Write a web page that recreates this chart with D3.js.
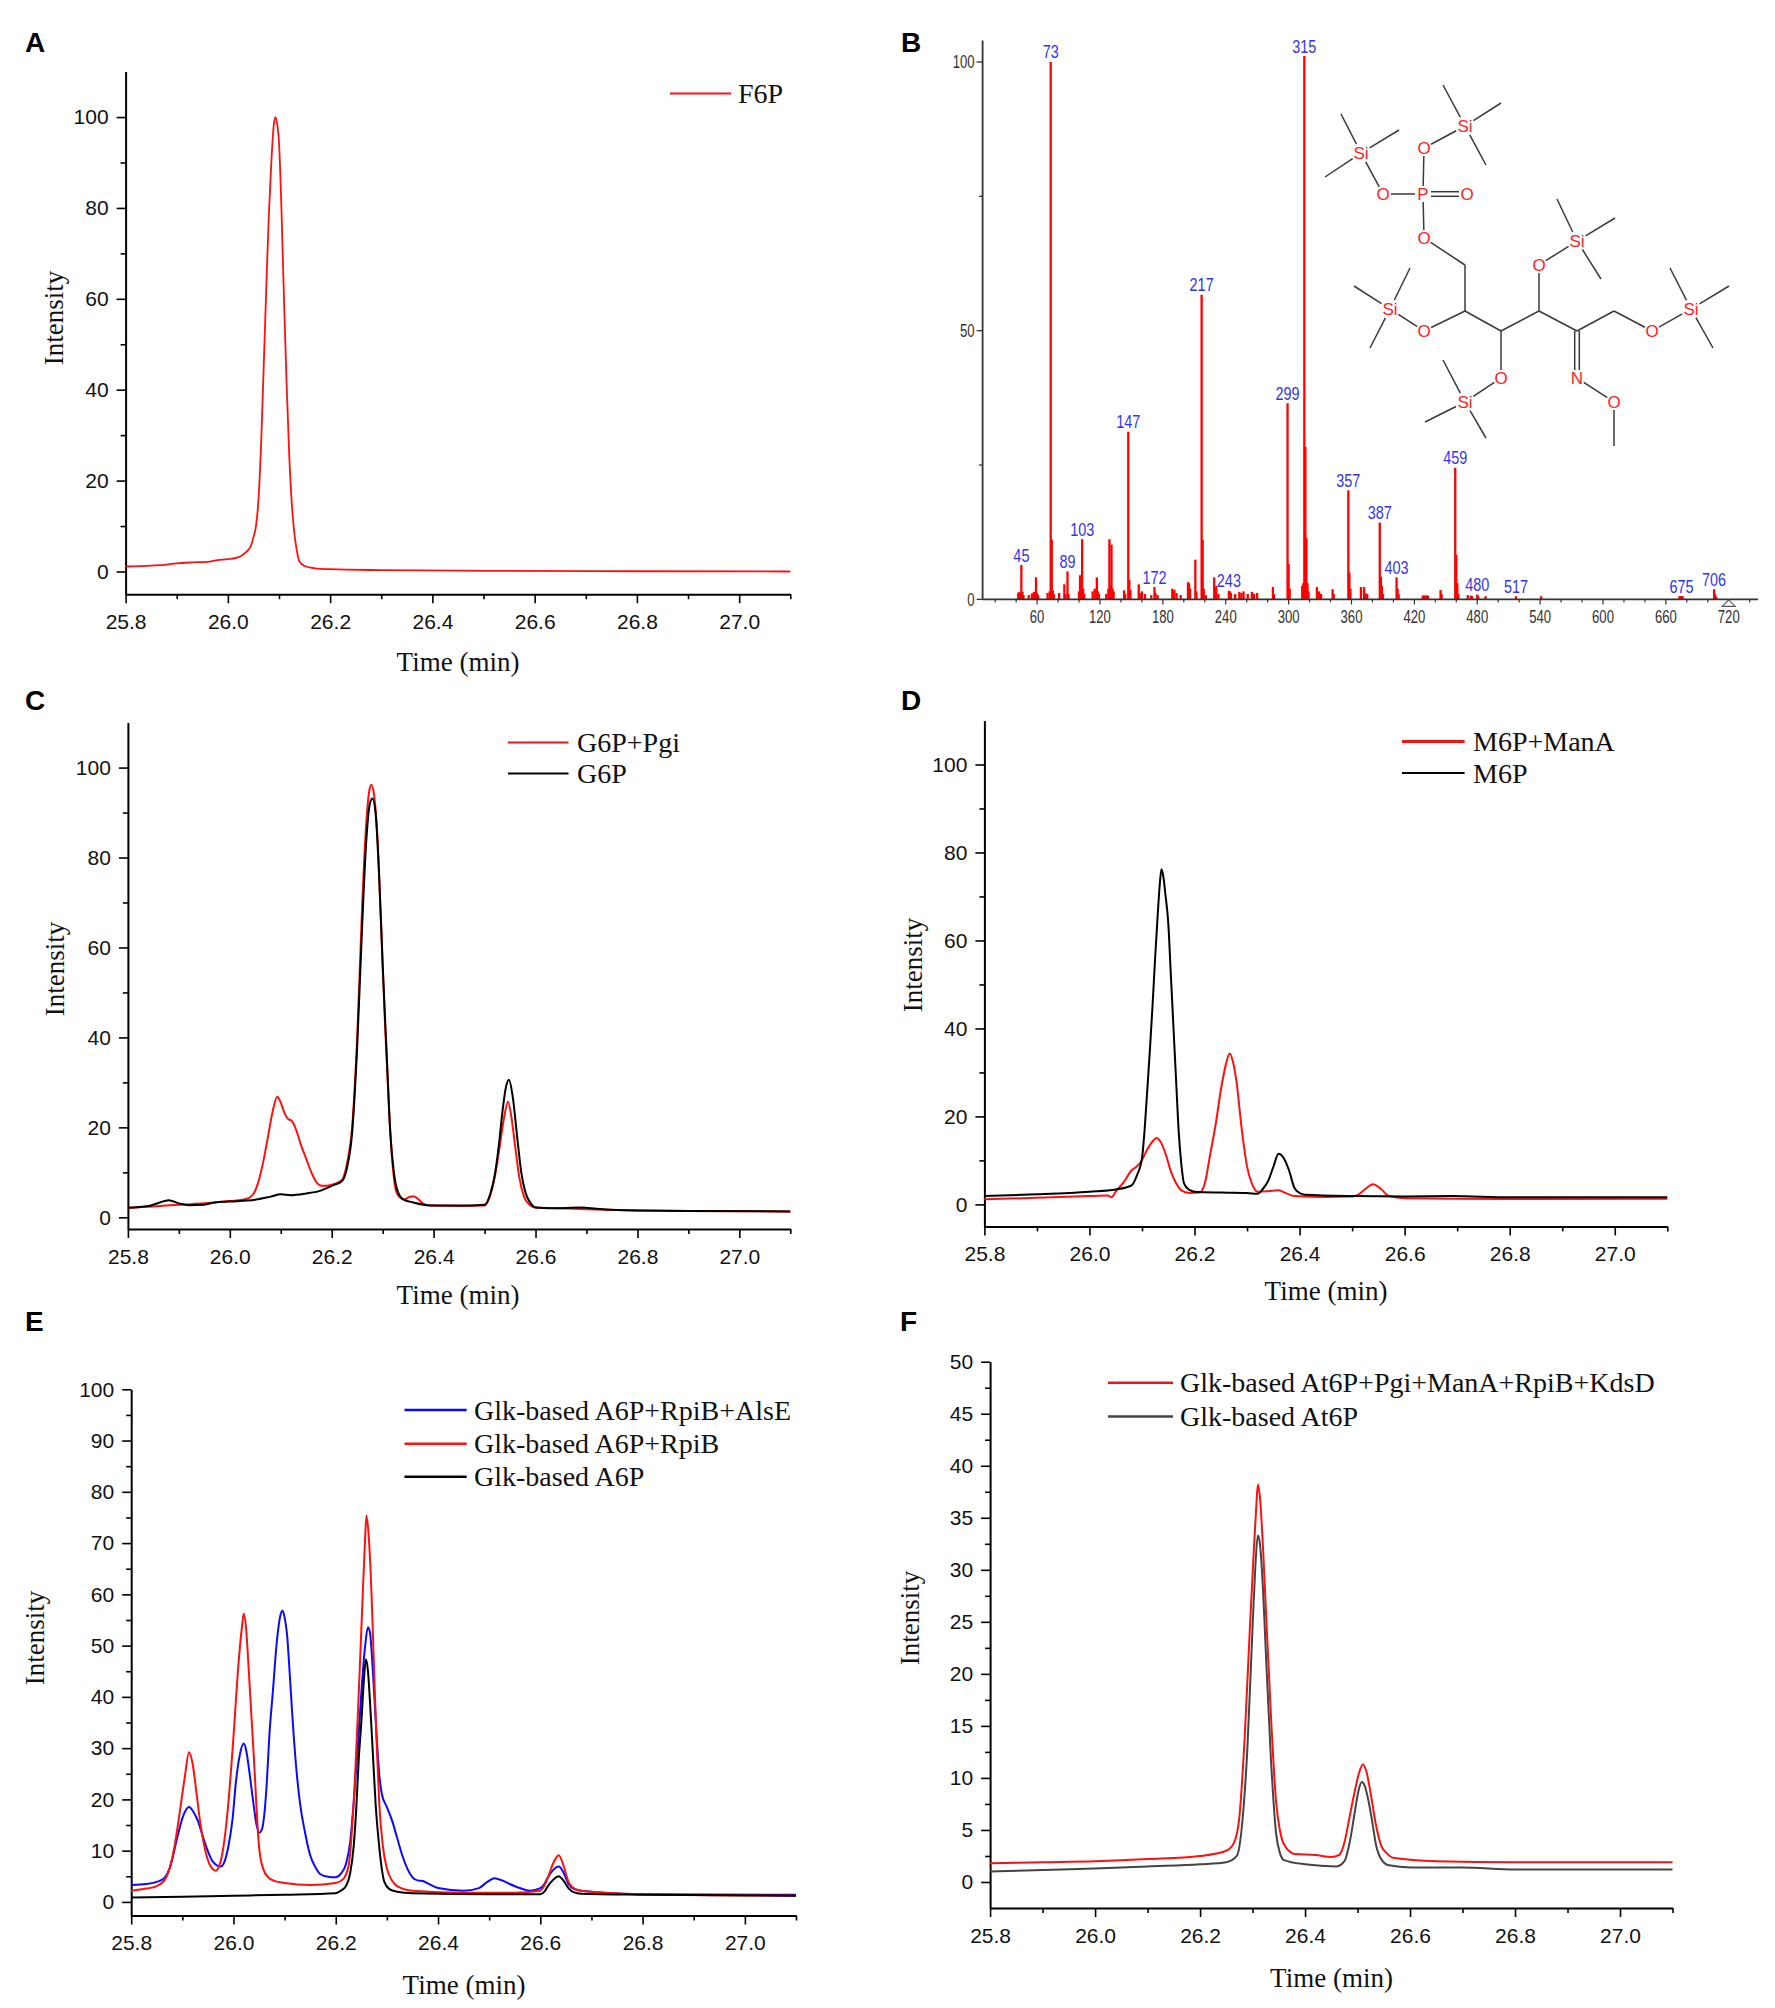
<!DOCTYPE html>
<html><head><meta charset="utf-8">
<script src="https://cdn.jsdelivr.net/npm/d3@7"></script>
<style>body{margin:0;background:#fff}svg{display:block}</style>
</head><body>
<svg id="c" width="1775" height="2008"></svg>
<script>
// ---------------- DATA ----------------
const timeTicks = [25.8, 26.0, 26.2, 26.4, 26.6, 26.8, 27.0];
const timeMinor = [25.9, 26.1, 26.3, 26.5, 26.7, 26.9, 27.1];

// Panel A: F6P
const aF6P = [[25.80,1.1],[25.85,1.3],[25.88,1.5],[25.90,1.8],[25.93,2.0],[25.96,2.1],[25.98,2.5],[26.00,2.7],[26.02,3.1],[26.035,4.2],[26.045,5.6],[26.05,7.5],[26.055,10],[26.06,16],[26.065,28],[26.07,44.7],[26.075,62],[26.08,78],[26.085,90],[26.09,98.5],[26.093,100],[26.097,98],[26.10,94.5],[26.105,79],[26.11,59],[26.115,41],[26.12,25.6],[26.125,15],[26.13,8.4],[26.135,4.5],[26.14,2.2],[26.15,1.2],[26.17,0.7],[26.2,0.5],[26.3,0.3],[26.5,0.15],[26.8,0.05],[27.1,0]];

// Panel B: mass spectrum [m/z, relative abundance]
const msPeaks = [[42,1.2],[43,1.4],[44,1.0],[45,6.4],[46,1.4],[47,0.8],[52,0.8],[55,1.1],[57,1.4],[59,4.1],[60,1.2],[61,0.8],[70,1.2],[72,1.5],[73,100],[74,11.1],[75,1.7],[76,1.0],[81,1.2],[86,2.8],[87,1.0],[89,5.2],[90,1.0],[100,1.5],[101,4.5],[102,2.0],[103,11.2],[104,2.0],[105,1.0],[113,1.5],[115,2.0],[117,4.1],[118,1.5],[119,1.0],[126,1.0],[128,2.0],[129,11.2],[130,2.5],[131,10.2],[132,2.0],[133,1.5],[143,1.7],[144,1.0],[147,31.2],[148,3.6],[149,1.8],[157,2.8],[158,1.2],[160,1.5],[163,1.0],[169,0.8],[172,2.3],[173,1.2],[175,0.8],[189,2.0],[190,1.5],[191,1.8],[193,1.2],[197,0.8],[204,3.2],[205,3.0],[206,2.0],[211,7.4],[212,1.5],[217,56.7],[218,11.1],[219,2.0],[221,0.8],[229,4.1],[230,2.0],[231,2.5],[233,1.0],[243,1.6],[244,1.5],[245,1.2],[249,1.0],[253,1.4],[255,1.2],[257,1.5],[261,1.0],[265,1.4],[267,1.0],[270,1.2],[285,2.3],[286,1.0],[299,36.5],[300,6.6],[301,2.0],[313,2.5],[314,3.0],[315,101.1],[316,28.4],[317,11.4],[318,3.0],[319,1.5],[327,2.3],[329,1.5],[331,1.0],[342,1.9],[343,1.0],[357,20.3],[358,5.0],[359,2.0],[369,2.3],[372,2.3],[373,1.2],[375,1.0],[387,14.3],[388,4.2],[389,2.5],[390,1.0],[403,4.1],[404,2.0],[405,1.0],[428,0.7],[429,0.7],[430,0.7],[431,0.7],[432,0.7],[433,0.7],[445,1.75],[446,1.0],[459,24.5],[460,8.3],[461,3.0],[462,1.0],[471,0.8],[474,0.7],[475,0.6],[480,0.9],[481,0.6],[488,0.6],[517,0.6],[541,0.6],[673,0.6],[674,0.6],[675,0.6],[676,0.6],[706,1.9],[707,1.0],[708,0.5]];
const msLabels = [45,73,89,103,147,172,217,243,299,315,357,387,403,459,480,517,675,706];
const msXTicks = [60,120,180,240,300,360,420,480,540,600,660,720];
const msYTicks = [0,50,100];

// Panel C
const cG6PPgi = [[25.80,2.1],[25.85,2.4],[25.90,2.8],[25.95,3.1],[26.00,3.6],[26.03,4.0],[26.045,5],[26.055,7.5],[26.065,12],[26.075,18],[26.085,24],[26.093,26.8],[26.10,25.5],[26.108,23],[26.115,21.8],[26.121,21.5],[26.13,19.5],[26.14,16],[26.15,13],[26.16,10],[26.17,7.8],[26.18,7.0],[26.19,7.0],[26.205,7.4],[26.22,8.3],[26.23,12],[26.24,20],[26.25,40],[26.26,70],[26.268,88],[26.274,95],[26.278,96.2],[26.283,94],[26.29,84],[26.297,65],[26.305,42],[26.313,23],[26.32,11],[26.327,5.6],[26.335,4.3],[26.343,4.0],[26.352,4.5],[26.36,4.7],[26.37,4.0],[26.38,3.0],[26.395,2.6],[26.45,2.5],[26.5,2.6],[26.51,4.5],[26.52,9],[26.53,16],[26.538,22],[26.546,25.7],[26.553,22],[26.56,15.9],[26.568,9],[26.577,4.7],[26.588,2.8],[26.6,2.2],[26.65,2.0],[26.7,1.8],[26.8,1.5],[26.9,1.4],[27.1,1.3]];
const cG6P = [[25.80,2.1],[25.84,2.5],[25.86,3.2],[25.88,3.8],[25.90,3.1],[25.92,2.7],[25.95,2.8],[25.97,3.3],[26.00,3.5],[26.05,3.9],[26.08,4.6],[26.1,5.1],[26.12,4.9],[26.15,5.3],[26.18,6.0],[26.2,7.0],[26.22,8.0],[26.23,11],[26.24,18.7],[26.25,38],[26.26,65.5],[26.268,84],[26.275,92],[26.28,93.1],[26.286,90],[26.293,76],[26.30,56],[26.308,36],[26.315,18.7],[26.322,10],[26.33,5.6],[26.34,4.0],[26.36,3.3],[26.4,2.6],[26.45,2.6],[26.5,2.8],[26.512,5.5],[26.52,9.4],[26.528,16],[26.535,23.4],[26.542,29],[26.548,30.6],[26.555,27],[26.565,16.8],[26.572,10],[26.58,5.6],[26.59,3.2],[26.6,2.2],[26.65,2.0],[26.69,2.2],[26.72,1.9],[26.8,1.5],[26.9,1.4],[27.1,1.3]];

// Panel D
const dM6PManA = [[25.8,1.15],[25.9,1.5],[26.0,1.9],[26.035,2.0],[26.042,1.6],[26.05,2.9],[26.065,5],[26.08,7.7],[26.09,8.6],[26.1,10.1],[26.11,12.5],[26.12,14.3],[26.128,15.1],[26.135,14.3],[26.145,11.5],[26.155,7.5],[26.165,4.8],[26.175,3.2],[26.19,2.6],[26.21,2.7],[26.22,5],[26.23,11.5],[26.24,18],[26.25,25.9],[26.26,32],[26.267,34.3],[26.273,32.5],[26.28,27.8],[26.29,17],[26.3,8.6],[26.31,4.5],[26.32,2.9],[26.34,3.0],[26.36,3.2],[26.375,2.5],[26.39,1.9],[26.45,1.7],[26.5,1.8],[26.51,2.1],[26.525,3.5],[26.54,4.6],[26.555,3.5],[26.57,1.9],[26.6,1.4],[26.7,1.3],[26.8,1.25],[27.1,1.3]];
const dM6P = [[25.80,1.9],[25.9,2.3],[26.0,2.9],[26.05,3.4],[26.08,4.3],[26.09,6.5],[26.1,10.5],[26.105,17],[26.11,25.9],[26.115,35],[26.12,45],[26.125,56],[26.13,66],[26.134,73],[26.137,76.2],[26.14,75],[26.145,70],[26.15,64],[26.155,52],[26.16,40],[26.165,28],[26.17,16.3],[26.175,9],[26.18,4.8],[26.19,3.3],[26.2,2.9],[26.25,2.7],[26.3,2.6],[26.32,2.4],[26.33,3.5],[26.34,5.3],[26.35,8.5],[26.36,11.5],[26.37,10.5],[26.38,7.7],[26.39,3.8],[26.4,2.6],[26.41,2.2],[26.5,1.9],[26.6,1.8],[26.69,1.9],[26.8,1.6],[27.1,1.6]];

// Panel E
const eAlsE = [[25.8,3.3],[25.83,3.5],[25.85,3.9],[25.865,4.7],[25.875,6.5],[25.89,12.5],[25.9,16.3],[25.913,18.5],[25.922,17.5],[25.93,15.9],[25.94,12.8],[25.95,9.9],[25.96,7.8],[25.975,6.9],[25.983,8],[25.99,10.8],[25.998,16],[26.005,23.6],[26.012,28.5],[26.02,30.9],[26.025,29.5],[26.03,26.2],[26.038,20],[26.045,15.1],[26.05,13.5],[26.055,14],[26.06,16.8],[26.065,23],[26.07,32.2],[26.077,41],[26.085,51],[26.092,56],[26.096,56.8],[26.1,55.5],[26.105,51.9],[26.11,44.5],[26.115,36.5],[26.122,27],[26.13,19.3],[26.14,13.5],[26.15,9.1],[26.16,6.8],[26.17,5.4],[26.185,4.9],[26.2,4.8],[26.21,5.5],[26.22,7.4],[26.228,11.5],[26.235,19.3],[26.243,30],[26.25,40.8],[26.257,49.5],[26.263,53.6],[26.267,52.5],[26.272,46],[26.28,32.2],[26.285,25],[26.29,21.1],[26.3,18.5],[26.31,15.9],[26.32,12.5],[26.33,9.1],[26.34,6.5],[26.35,4.8],[26.36,4.2],[26.37,4.1],[26.38,3.6],[26.4,2.7],[26.45,2.2],[26.48,2.7],[26.495,3.8],[26.51,4.6],[26.525,4.2],[26.54,3.5],[26.56,2.7],[26.58,2.2],[26.6,2.7],[26.608,3.5],[26.615,4.8],[26.625,6.2],[26.636,6.9],[26.645,5.8],[26.655,3.5],[26.667,2.5],[26.68,2.2],[26.8,1.5],[27.1,1.4]];
const eRpiB = [[25.8,2.2],[25.83,2.6],[25.85,3.1],[25.865,4.2],[25.875,6.5],[25.885,11],[25.895,17.5],[25.905,24.5],[25.913,29.2],[25.92,27],[25.928,21],[25.935,15.5],[25.945,10],[25.955,7],[25.965,6.1],[25.972,7.0],[25.98,10.5],[25.99,19.3],[26.0,32.2],[26.01,46.7],[26.017,54],[26.02,56.2],[26.025,53],[26.03,45],[26.04,27.9],[26.05,10.8],[26.058,6.5],[26.068,4.8],[26.08,4.1],[26.1,3.7],[26.15,3.3],[26.2,3.7],[26.215,4.5],[26.225,7],[26.235,19.3],[26.245,40.8],[26.252,58],[26.257,70],[26.26,75.4],[26.264,72],[26.27,60],[26.275,45],[26.28,31],[26.285,19.3],[26.292,11],[26.3,6.5],[26.31,4.2],[26.32,3.1],[26.35,2.2],[26.45,1.8],[26.55,1.8],[26.6,2.2],[26.608,3.2],[26.615,4.8],[26.625,7.5],[26.636,9.1],[26.645,7.2],[26.655,3.9],[26.667,2.6],[26.68,2.2],[26.8,1.5],[27.1,1.2]];
const eA6P = [[25.8,0.86],[25.9,1.0],[26.0,1.2],[26.1,1.4],[26.2,1.7],[26.21,2.2],[26.22,3.1],[26.228,5.5],[26.235,10.8],[26.24,18],[26.245,27.9],[26.25,35],[26.255,43.3],[26.259,47.3],[26.263,45],[26.267,39],[26.272,30],[26.278,19],[26.285,10.8],[26.29,6.5],[26.295,3.9],[26.305,2.5],[26.32,2.0],[26.35,1.7],[26.5,1.5],[26.6,1.5],[26.608,2.0],[26.615,3.1],[26.625,4.3],[26.636,5.0],[26.645,4.2],[26.655,2.7],[26.665,1.9],[26.68,1.6],[26.8,1.4],[27.1,1.2]];

// Panel F
const fFull = [[25.8,1.8],[25.9,1.9],[26.0,2.0],[26.1,2.2],[26.2,2.5],[26.25,3.0],[26.265,3.8],[26.275,6.3],[26.285,13.9],[26.295,24.5],[26.302,31.5],[26.307,36],[26.31,38.2],[26.314,37],[26.32,32],[26.325,26.6],[26.335,16],[26.345,7.6],[26.352,5],[26.36,3.6],[26.38,2.7],[26.42,2.6],[26.45,2.4],[26.465,2.6],[26.475,3.8],[26.485,6.3],[26.495,8.8],[26.503,10.5],[26.51,11.3],[26.517,10.6],[26.525,8.5],[26.535,5.5],[26.545,3.5],[26.555,2.8],[26.57,2.3],[26.65,2.0],[26.8,1.9],[27.1,1.9]];
const fAt6P = [[25.8,1.0],[25.9,1.15],[26.0,1.3],[26.1,1.5],[26.2,1.7],[26.25,1.9],[26.27,2.5],[26.28,5.5],[26.29,12.7],[26.30,24.5],[26.305,30],[26.31,33.3],[26.314,32.5],[26.32,28],[26.325,22.4],[26.335,11.8],[26.345,4.6],[26.352,2.8],[26.36,2.1],[26.4,1.7],[26.46,1.5],[26.475,2.0],[26.485,3.8],[26.495,6.8],[26.502,8.8],[26.508,9.6],[26.514,9.2],[26.52,8.0],[26.528,5.8],[26.535,3.6],[26.545,2.2],[26.56,1.6],[26.6,1.4],[26.7,1.4],[26.8,1.2],[27.1,1.2]];

// ---------------- DRAW ----------------
const svg = d3.select("#c");
const SANS = "'Liberation Sans', Arial, sans-serif";
const SERIF = "'Liberation Serif', 'Times New Roman', serif";

function letter(t, x, y) {
  svg.append("text").attr("x", x).attr("y", y).text(t)
    .attr("font-family", SANS).attr("font-weight", "bold").attr("font-size", 28).attr("fill", "#000");
}

function chrom(cfg) {
  const g = svg.append("g");
  const x = d3.scaleLinear().domain([25.8, 27.1]).range(cfg.xr);
  const y = d3.scaleLinear().domain(cfg.yDomain).range(cfg.yr);
  const styleAxis = sel => {
    sel.select(".domain").attr("stroke", "#000").attr("stroke-width", 2);
    sel.selectAll(".tick line").attr("stroke", "#000").attr("stroke-width", 1.6);
    sel.selectAll("text").attr("font-family", SANS).attr("font-size", 21).attr("fill", "#111");
  };
  // y axis
  const ya = g.append("g").attr("transform", `translate(${cfg.xr[0]},0)`)
    .call(d3.axisLeft(y).tickValues(cfg.yMajor).tickSize(9).tickPadding(8).tickSizeOuter(0).tickFormat(d3.format("d")));
  styleAxis(ya);
  const ym = g.append("g").attr("transform", `translate(${cfg.xr[0]},0)`)
    .call(d3.axisLeft(y).tickValues(cfg.yMinor).tickSize(5).tickFormat("").tickSizeOuter(0));
  ym.select(".domain").remove(); styleAxis(ym);
  // x axis
  const xa = g.append("g").attr("transform", `translate(0,${cfg.yr[0]})`)
    .call(d3.axisBottom(x).tickValues(timeTicks).tickSize(9).tickPadding(11).tickSizeOuter(0).tickFormat(d3.format(".1f")));
  styleAxis(xa);
  const xm = g.append("g").attr("transform", `translate(0,${cfg.yr[0]})`)
    .call(d3.axisBottom(x).tickValues(timeMinor).tickSize(5).tickFormat("").tickSizeOuter(0));
  xm.select(".domain").remove(); styleAxis(xm);
  // series
  const line = d3.line().x(d => x(d[0])).y(d => y(d[1])).curve(d3.curveMonotoneX);
  cfg.series.forEach(s => {
    g.append("path").datum(s.data).attr("d", line).attr("fill", "none")
      .attr("stroke", s.color).attr("stroke-width", s.w || 2).attr("stroke-linejoin", "round");
  });
  // legend
  cfg.series.forEach((s, i) => {
    const ly = cfg.leg.ys[i];
    g.append("line").attr("x1", cfg.leg.x1).attr("x2", cfg.leg.x2).attr("y1", ly).attr("y2", ly)
      .attr("stroke", s.color).attr("stroke-width", s.lw || 2.2);
    g.append("text").attr("x", cfg.leg.tx).attr("y", ly).attr("dominant-baseline", "central")
      .attr("font-family", SERIF).attr("font-size", 28).attr("fill", "#111").text(s.name);
  });
  // axis titles
  g.append("text").attr("transform", `translate(${cfg.ylab[0]},${cfg.ylab[1]}) rotate(-90)`)
    .attr("text-anchor", "middle").attr("dominant-baseline", "central")
    .attr("font-family", SERIF).attr("font-size", 27).attr("fill", "#111").text("Intensity");
  g.append("text").attr("x", cfg.xlab[0]).attr("y", cfg.xlab[1])
    .attr("text-anchor", "middle").attr("dominant-baseline", "central")
    .attr("font-family", SERIF).attr("font-size", 27).attr("fill", "#111").text("Time (min)");
}

const major100 = [0,20,40,60,80,100], minor100 = [10,30,50,70,90];

// A
letter("A", 25, 52);
chrom({xr:[125.6,790.3], yr:[594.2,71.6], yDomain:[-5,110], yMajor:major100, yMinor:minor100,
  series:[{data:aF6P, color:"#ff1010", name:"F6P", w:1.8}],
  leg:{x1:670, x2:731, tx:738, ys:[93.5]}, ylab:[54,318], xlab:[458,662]});

// C
letter("C", 25, 710);
chrom({xr:[127.9,790.3], yr:[1229,722.6], yDomain:[-2.6,110], yMajor:major100, yMinor:minor100,
  series:[{data:cG6PPgi, color:"#ff1010", name:"G6P+Pgi"},{data:cG6P, color:"#000", name:"G6P"}],
  leg:{x1:508, x2:568.5, tx:577, ys:[742.5,773.5]}, ylab:[55,969], xlab:[458,1295]});

// D
letter("D", 901, 710);
chrom({xr:[984.4,1667.3], yr:[1226.4,720.5], yDomain:[-5,110], yMajor:major100, yMinor:minor100,
  series:[{data:dM6PManA, color:"#ff1010", name:"M6P+ManA", lw:3},{data:dM6P, color:"#000", name:"M6P"}],
  leg:{x1:1402, x2:1464.6, tx:1473, ys:[741.6,773]}, ylab:[912.5,965], xlab:[1326,1291]});

// E
letter("E", 25, 1331);
chrom({xr:[131.2,796], yr:[1915.5,1389.3], yDomain:[-2.65,100], yMajor:d3.range(0,101,10), yMinor:d3.range(5,100,10),
  series:[{data:eAlsE, color:"#0a0aff", name:"Glk-based A6P+RpiB+AlsE", lw:2.6},
          {data:eRpiB, color:"#ff1010", name:"Glk-based A6P+RpiB", lw:2.6},
          {data:eA6P, color:"#000", name:"Glk-based A6P", lw:2.6}],
  leg:{x1:404.5, x2:466.7, tx:474, ys:[1410,1443.7,1476.7]}, ylab:[35,1638], xlab:[464,1985]});

// F
letter("F", 900, 1331);
chrom({xr:[990.1,1672.5], yr:[1908,1361.7], yDomain:[-2.5,50], yMajor:d3.range(0,51,5), yMinor:d3.range(2.5,50,5),
  series:[{data:fFull, color:"#ff1010", name:"Glk-based At6P+Pgi+ManA+RpiB+KdsD", lw:2.4},
          {data:fAt6P, color:"#444", name:"Glk-based At6P", lw:2.4}],
  leg:{x1:1108, x2:1173, tx:1180, ys:[1382.7,1416.5]}, ylab:[910,1618], xlab:[1331.5,1978]});

// ---------------- Panel B: mass spectrum ----------------
letter("B", 901, 52);
(function(){
  const g = svg.append("g");
  const x = d3.scaleLinear().domain([8, 748]).range([982.6, 1758.1]);
  const y = d3.scaleLinear().domain([0, 104]).range([599.4, 40.5]);
  const axCol = "#333";
  // bars
  g.selectAll("line.pk").data(msPeaks).enter().append("line")
    .attr("x1", d => x(d[0])).attr("x2", d => x(d[0]))
    .attr("y1", y(0)).attr("y2", d => y(d[1]))
    .attr("stroke", "#ff0000").attr("stroke-width", 2.3);
  // axes
  g.append("line").attr("x1", x.range()[0]).attr("x2", x.range()[0]).attr("y1", y(0)).attr("y2", y.range()[1])
    .attr("stroke", axCol).attr("stroke-width", 1.8);
  g.append("line").attr("x1", x.range()[0]).attr("x2", x.range()[1]).attr("y1", y(0)).attr("y2", y(0))
    .attr("stroke", axCol).attr("stroke-width", 1.8);
  // y ticks
  [25, 75].forEach(v => g.append("line").attr("x1", x.range()[0]-3.5).attr("x2", x.range()[0])
    .attr("y1", y(v)).attr("y2", y(v)).attr("stroke", axCol).attr("stroke-width", 1.3));
  msYTicks.forEach(v => {
    g.append("line").attr("x1", x.range()[0]-6).attr("x2", x.range()[0]).attr("y1", y(v)).attr("y2", y(v))
      .attr("stroke", axCol).attr("stroke-width", 1.3);
    g.append("text").attr("transform", `translate(${x.range()[0]-8},${y(v)}) scale(0.75,1)`)
      .attr("text-anchor", "end").attr("dominant-baseline", "central")
      .attr("font-family", SANS).attr("font-size", 17.5).attr("fill", "#333").text(v);
  });
  // x ticks
  d3.range(20, 741, 20).forEach(v => {
    const major = v % 60 === 0;
    g.append("line").attr("x1", x(v)).attr("x2", x(v)).attr("y1", y(0)).attr("y2", y(0) + (major ? 5 : 3))
      .attr("stroke", axCol).attr("stroke-width", 1.2);
  });
  msXTicks.forEach(v => {
    g.append("text").attr("transform", `translate(${x(v)},${y(0)+17.5}) scale(0.75,1)`)
      .attr("text-anchor", "middle").attr("dominant-baseline", "central")
      .attr("font-family", SANS).attr("font-size", 17.5).attr("fill", "#333").text(v);
  });
  // triangle marker
  const tx = x(720), ty = y(0);
  g.append("path").attr("d", `M${tx},${ty+0.5} L${tx+6.5},${ty+7} L${tx-6.5},${ty+7} Z`)
    .attr("fill", "#fff").attr("stroke", "#555").attr("stroke-width", 1.1);
  // peak labels
  const peakMap = new Map(msPeaks.map(d => [d[0], d[1]]));
  msLabels.forEach(m => {
    g.append("text").attr("transform", `translate(${x(m)},${y(peakMap.get(m)) - 3.5}) scale(0.78,1)`)
      .attr("text-anchor", "middle").attr("font-family", SANS).attr("font-size", 18.5)
      .attr("fill", "#3333ee").text(m);
  });

  // chemical structure (TMS-derivatised F6P methoxime)
  const atoms = {
    Si1:[1361,153,"Si"], m1a:[1341,114], m1b:[1399,130], m1c:[1325,177],
    O1:[1383,194,"O"], P:[1423,194,"P"], Od:[1467,194,"O"], Ot:[1424,148,"O"],
    Si2:[1465,126,"Si"], m2a:[1443,85], m2b:[1501,103], m2c:[1486,165],
    Ob:[1424,238,"O"], C1:[1465,265], C2:[1465,311], O2:[1424,331,"O"],
    Si3:[1390,309,"Si"], m3a:[1354,286], m3b:[1410,268], m3c:[1370,348],
    C3:[1501,331], O3:[1501,378,"O"], Si4:[1465,402,"Si"], m4a:[1443,360], m4b:[1425,422], m4c:[1486,438],
    C4:[1539,311], O4:[1539,265,"O"], Si5:[1577,241,"Si"], m5a:[1557,199], m5b:[1615,218], m5c:[1601,279],
    C5:[1577,331], N:[1577,378,"N"], O5:[1614,402,"O"], Me:[1614,446],
    C6:[1614,311], O6:[1652,331,"O"], Si6:[1691,309,"Si"], m6a:[1670,268], m6b:[1729,286], m6c:[1713,348]
  };
  const bonds = [["Si1","m1a"],["Si1","m1b"],["Si1","m1c"],["Si1","O1"],["O1","P"],["P","Od",2],["P","Ot"],["Ot","Si2"],
    ["Si2","m2a"],["Si2","m2b"],["Si2","m2c"],["P","Ob"],["Ob","C1"],["C1","C2"],["C2","O2"],["O2","Si3"],
    ["Si3","m3a"],["Si3","m3b"],["Si3","m3c"],["C2","C3"],["C3","O3"],["O3","Si4"],["Si4","m4a"],["Si4","m4b"],["Si4","m4c"],
    ["C3","C4"],["C4","O4"],["O4","Si5"],["Si5","m5a"],["Si5","m5b"],["Si5","m5c"],["C4","C5"],["C5","N",2],["N","O5"],["O5","Me"],
    ["C5","C6"],["C6","O6"],["O6","Si6"],["Si6","m6a"],["Si6","m6b"],["Si6","m6c"]];
  const gap = a => a[2] ? (a[2] === "Si" ? 10 : 8) : 0;
  const sg = svg.append("g");
  bonds.forEach(b => {
    const A = atoms[b[0]], B = atoms[b[1]];
    const dx = B[0]-A[0], dy = B[1]-A[1], L = Math.hypot(dx, dy), ux = dx/L, uy = dy/L;
    const x1 = A[0]+ux*gap(A), y1 = A[1]+uy*gap(A), x2 = B[0]-ux*gap(B), y2 = B[1]-uy*gap(B);
    const offs = b[2] === 2 ? [-2.3, 2.3] : [0];
    offs.forEach(o => sg.append("line").attr("x1", x1 - uy*o).attr("y1", y1 + ux*o)
      .attr("x2", x2 - uy*o).attr("y2", y2 + ux*o).attr("stroke", "#3a3a3a").attr("stroke-width", 1.5));
  });
  Object.values(atoms).filter(a => a[2]).forEach(a => {
    sg.append("text").attr("x", a[0]).attr("y", a[1]).attr("text-anchor", "middle").attr("dominant-baseline", "central")
      .attr("font-family", SANS).attr("font-size", 17).attr("fill", "#ff2222").text(a[2]);
  });
})();
</script>
</body></html>
